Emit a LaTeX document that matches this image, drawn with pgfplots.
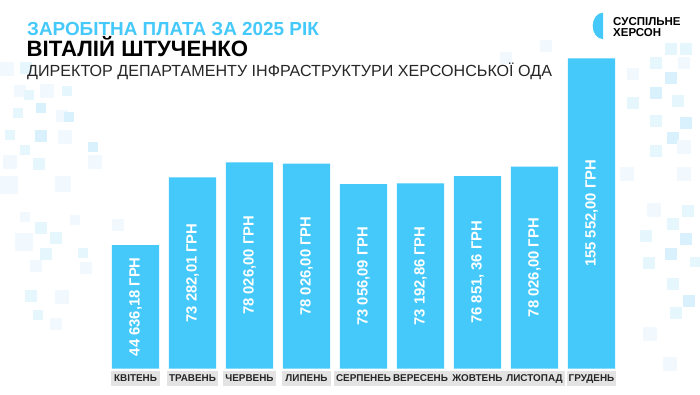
\documentclass[border=0pt]{standalone}
\usepackage{fontspec}
\setmainfont{Liberation Sans}
\usepackage{pgfplots}
\pgfplotsset{compat=1.18}
\usepackage{pgfplotstable}
\definecolor{barblue}{HTML}{45C9FA}
\definecolor{lblgray}{HTML}{E3E3E3}
\definecolor{sqA}{HTML}{F1F9FE}
\definecolor{sqB}{HTML}{E5F6FD}
\definecolor{sqC}{HTML}{D9F1FC}

% x = month index, h = bar height as drawn (px), label = value printed in the bar
\pgfplotstableread{
x h label
0 123.5 {44 636,18 ГРН}
1 191.2 {73 282,01 ГРН}
2 206.2 {78 026,00 ГРН}
3 204.8 {78 026,00 ГРН}
4 184.5 {73 056,09 ГРН}
5 185.2 {73 192,86 ГРН}
6 192.5 {76 851, 36 ГРН}
7 201.8 {78 026,00 ГРН}
8 310.2 {155 552,00 ГРН}
}\salary

\begin{document}
\begin{tikzpicture}[x=1bp,y=1bp]
\fill[white] (0,0) rectangle (700,394);
\useasboundingbox (0,0) rectangle (700,394);
% decorative background squares
\foreach \sx/\sy/\ss/\sc in {
14/85/12/sqA, 24/90/10/sqB, 40/84/14/sqA, 62/86/10/sqB, 36/103/10/sqC,
13/108/10/sqB, 56/110/12/sqA, 64/112/10/sqC, 5/130/10/sqB, 35/130/12/sqC,
58/130/14/sqA, 20/145/10/sqB, 88/142/10/sqC, 33/158/12/sqB, 3/155/14/sqA,
88/155/14/sqA, 0/176/18/sqA, 55/176/16/sqA, 20/212/10/sqA, 70/215/10/sqA,
35/222/12/sqB, 112/219/12/sqA, 15/233/18/sqA, 50/232/12/sqB, 40/248/12/sqB,
78/248/10/sqB, 30/260/12/sqA, 80/262/12/sqA, 25/290/12/sqB, 55/290/14/sqA,
33/310/10/sqB, 50/318/12/sqA, 0/62/14/sqA, 20/62/12/sqB, 540/40/12/sqA,
500/52/12/sqA,
665/43/12/sqB, 680/43/12/sqB, 650/57/12/sqB, 678/57/12/sqA, 627/68/12/sqA,
665/72/12/sqC, 650/87/12/sqC, 627/97/12/sqB, 672/95/12/sqB, 650/115/12/sqB,
680/117/12/sqC, 667/132/12/sqC, 650/145/12/sqB, 677/140/14/sqA, 620/167/14/sqA,
677/167/14/sqA, 647/203/14/sqA, 682/205/12/sqB, 667/218/12/sqB, 640/230/12/sqB,
680/233/12/sqC, 665/248/12/sqC, 643/257/12/sqB, 690/257/10/sqB, 667/278/12/sqB,
683/295/12/sqC, 670/307/12/sqB, 643/327/14/sqA, 663/357/14/sqA}
{\fill[\sc] (\sx,{394-\sy}) rectangle ++(\ss,-\ss);}
% titles
\node[anchor=base west, inner sep=0, text=barblue, font=\bfseries\fontsize{18.9bp}{20bp}\selectfont] at (27,359) {ЗАРОБІТНА ПЛАТА ЗА 2025 РІК};
\node[anchor=base west, inner sep=0, text=black, font=\bfseries\fontsize{22.2bp}{24bp}\selectfont] at (26.5,338) {ВІТАЛІЙ ШТУЧЕНКО};
\node[anchor=base west, inner sep=0, text=black!85, font=\fontsize{16.1bp}{18bp}\selectfont] at (27,318) {ДИРЕКТОР ДЕПАРТАМЕНТУ ІНФРАСТРУКТУРИ ХЕРСОНСЬКОЇ ОДА};
% logo
\fill[barblue] (603,381.3) arc[start angle=90,end angle=270,x radius=10.3,y radius=13.2] -- cycle;
\node[anchor=base west, inner sep=0, text=black, font=\bfseries\fontsize{11.5bp}{12bp}\selectfont] at (613,369) {СУСПІЛЬНЕ};
\node[anchor=base west, inner sep=0, text=black, font=\bfseries\fontsize{11.5bp}{12bp}\selectfont] at (613,357.3) {ХЕРСОН};

\begin{axis}[
  at={(107bp,25.5bp)}, anchor=south west,
  scale only axis, width=513bp, height=320bp,
  xmin=-0.5, xmax=8.5, ymin=0, ymax=320,
  axis line style={draw=none},
  major tick length=0pt,
  ytick=\empty,
  xtick={0,...,8},
  xticklabels={КВІТЕНЬ,ТРАВЕНЬ,ЧЕРВЕНЬ,ЛИПЕНЬ,СЕРПЕНЕЬ,ВЕРЕСЕНЬ,ЖОВТЕНЬ,ЛИСТОПАД,ГРУДЕНЬ},
  xticklabel style={font=\bfseries\fontsize{9.9bp}{10bp}\selectfont, text=black!85,
    fill=lblgray, minimum width=49bp, text height=7.5bp, text depth=2bp,
    inner xsep=2bp, inner ysep=2.5bp, anchor=north, yshift=-2.5bp},
  clip=false,
]
\addplot[ybar, bar width=0.833, fill=barblue, draw=none] table[x=x, y=h] {\salary};
\addplot[draw=none, mark=none, nodes near coords, point meta=explicit symbolic,
  every node near coord/.append style={anchor=center, rotate=90, text=white,
    font=\bfseries\fontsize{14.8bp}{15bp}\selectfont, inner sep=0pt}]
  table[x=x, y expr=\thisrow{h}/2, meta=label] {\salary};
\end{axis}
\end{tikzpicture}
\end{document}
